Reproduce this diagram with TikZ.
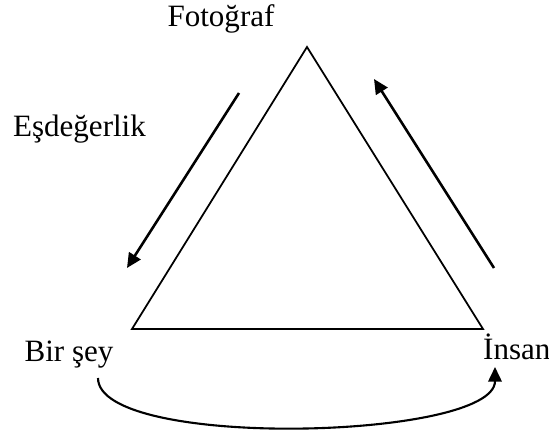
\documentclass[tikz,border=0pt]{standalone}
\usepackage{fontspec}
\setmainfont{Liberation Serif}
\usepackage{tikz}
\usetikzlibrary{arrows.meta,positioning}

\begin{document}
\begin{tikzpicture}[x=0.03cm, y=-0.03cm,
      lbl/.style={inner sep=0pt, anchor=base, font=\fontsize{26.5}{30}\selectfont},
      tri/.style={line width=1.5pt, line join=miter},
      arr/.style={-{Triangle[length=12.5pt, width=11.5pt]}, line width=2.2pt}
  ]
    \useasboundingbox (0,0) rectangle (549,433);
    % triangle corners
    \coordinate (top) at (307,47);
    \coordinate (bl) at (132,329);
    \coordinate (br) at (483,329);
    \draw[tri] (top) -- (bl) -- (br) -- cycle;
    % labels
    \node[lbl] (foto) at (221,27) {Fotoğraf};
    \node[lbl] (esd) at (79.5,137) {Eşdeğerlik};
    \node[lbl] (birsey) at (69,362) {Bir şey};
    \node[lbl, anchor=base west] (insan) at (483,360) {İnsan};
    % arrow ends
    \coordinate (l1) at (239,93);
    \coordinate (l2) at (127,268);
    \coordinate (r1) at (494,268);
    \coordinate (r2) at (374,79);
    \coordinate (c1) at (98,378);
    \coordinate (c2) at (495,367);
    \draw[arr] (l1) -- (l2);
    \draw[arr] (r1) -- (r2);
    \draw[arr, line width=1.8pt] (c1) .. controls (98,450) and (495,440) .. (c2);
  \end{tikzpicture}
\end{document}
